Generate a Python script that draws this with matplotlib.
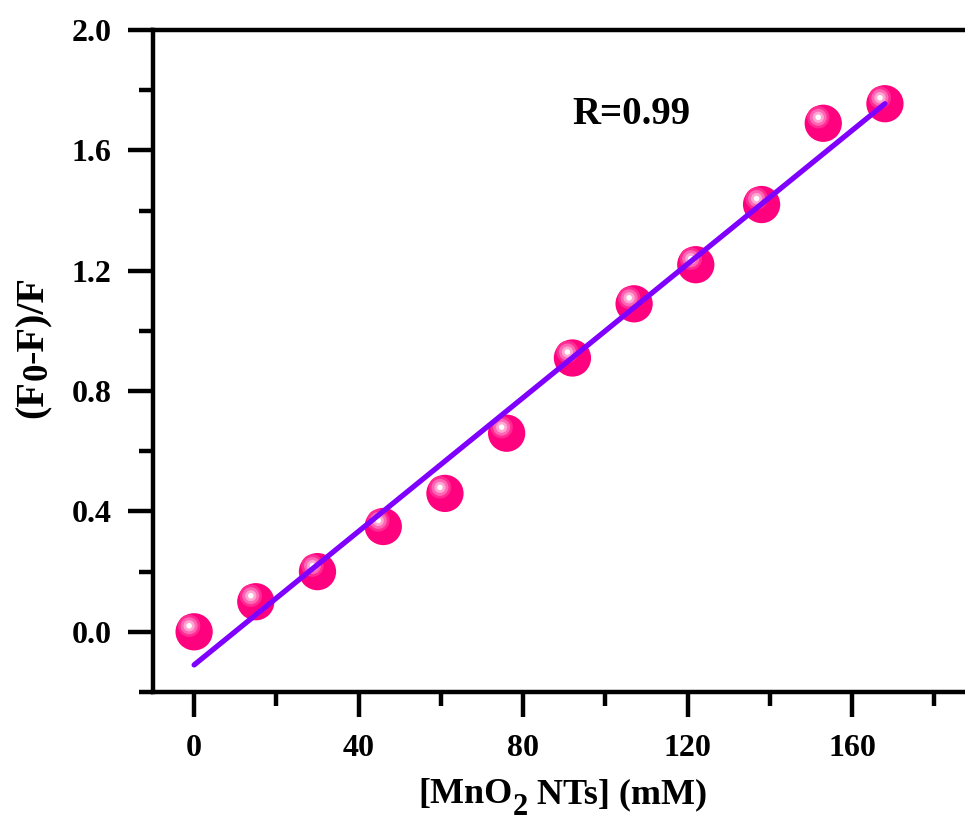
import matplotlib
matplotlib.use("Agg")
import matplotlib.pyplot as plt
import matplotlib.transforms as mtransforms
from matplotlib.ticker import MultipleLocator

plt.rcParams['font.family'] = ['Liberation Serif', 'DejaVu Serif']
plt.rcParams['font.weight'] = 'bold'

# data
conc = [0, 15, 30, 46, 61, 76, 92, 107, 122, 138, 153, 168]
ratio = [0.0, 0.10, 0.20, 0.35, 0.46, 0.66, 0.91, 1.09, 1.22, 1.42, 1.69, 1.755]
fit_x = [0, 168]
fit_y = [-0.11, 1.755]
r_text = "R=0.99"
x_ticks = [0, 40, 80, 120, 160]
y_ticks = [0.0, 0.4, 0.8, 1.2, 1.6, 2.0]
xlabel_parts = ["[MnO", "2", " NTs] (mM)"]
ylabel_parts = ["(F", "0", "-F)/F"]

W, H = 965, 824
fig = plt.figure(figsize=(W / 100, H / 100), dpi=100)
ax = fig.add_axes([153 / W, 1 - 692 / H, (975.4 - 153) / W, (692 - 30) / H])

ax.set_xlim(-10, 190)
ax.set_ylim(-0.2, 2.0)

# sphere-like markers
ax.scatter(conc, ratio, s=720, color='#FF007F', edgecolors='none', zorder=3)
off = mtransforms.offset_copy(ax.transData, fig=fig, x=-5, y=6, units='dots')
ax.scatter(conc, ratio, s=260, color='#FF2A92', edgecolors='none', zorder=4, transform=off)
ax.scatter(conc, ratio, s=150, color='#FF66B5', edgecolors='none', zorder=5, transform=off)
ax.scatter(conc, ratio, s=65, color='#FFA6D3', edgecolors='none', zorder=6, transform=off)
ax.scatter(conc, ratio, s=16, color='#FFFFFF', edgecolors='none', zorder=7, transform=off)

ax.plot(fit_x, fit_y, color='#7F00FF', lw=3.8, solid_capstyle='round', zorder=8)

ax.text(106.3, 1.72, r_text, fontsize=28, fontweight='bold', ha='center', va='center')

ax.set_xticks(x_ticks)
ax.set_yticks(y_ticks)
ax.set_yticklabels([f"{v:.1f}" for v in y_ticks])
ax.xaxis.set_minor_locator(MultipleLocator(20))
ax.yaxis.set_minor_locator(MultipleLocator(0.2))

for s in ['left', 'bottom', 'top', 'right']:
    ax.spines[s].set_linewidth(3.2)

ax.tick_params(axis='both', which='major', direction='out', length=18, width=3.2,
               labelsize=23, pad=12)
ax.tick_params(axis='both', which='minor', direction='out', length=10, width=3.2)
ax.tick_params(top=False, right=False, which='both')
for lbl in ax.get_xticklabels() + ax.get_yticklabels():
    lbl.set_fontweight('bold')

# axis labels with Origin-style large, strongly lowered subscripts
ident = mtransforms.IdentityTransform()
renderer = fig.canvas.get_renderer()

# x label (horizontal)
sizes = [26, 22, 26]
shifts = [0, -12, 0]
texts = [fig.text(0, 0, p, fontsize=fs, fontweight='bold', transform=ident,
                  ha='left', va='baseline')
         for p, fs in zip(xlabel_parts, sizes)]
widths = [t.get_window_extent(renderer).width for t in texts]
total = sum(widths)
x = 563 - total / 2
base_y = H - 803
for t, w, sh in zip(texts, widths, shifts):
    t.set_position((x, base_y + sh))
    x += w

# y label (rotated)
yshifts = [0, 4, 0]
ysizes = [29, 25, 29]
ytexts = [fig.text(0, 0, p, fontsize=fs, fontweight='bold', transform=ident,
                   ha='left', va='baseline', rotation=90, rotation_mode='anchor')
          for p, fs in zip(ylabel_parts, ysizes)]
heights = [t.get_window_extent(renderer).height for t in ytexts]
total = sum(heights)
y = (H - 347) - total / 2
base_x = 43
for t, h, sh in zip(ytexts, heights, yshifts):
    t.set_position((base_x + sh, y))
    y += h

fig.savefig('out.png', dpi=100)
